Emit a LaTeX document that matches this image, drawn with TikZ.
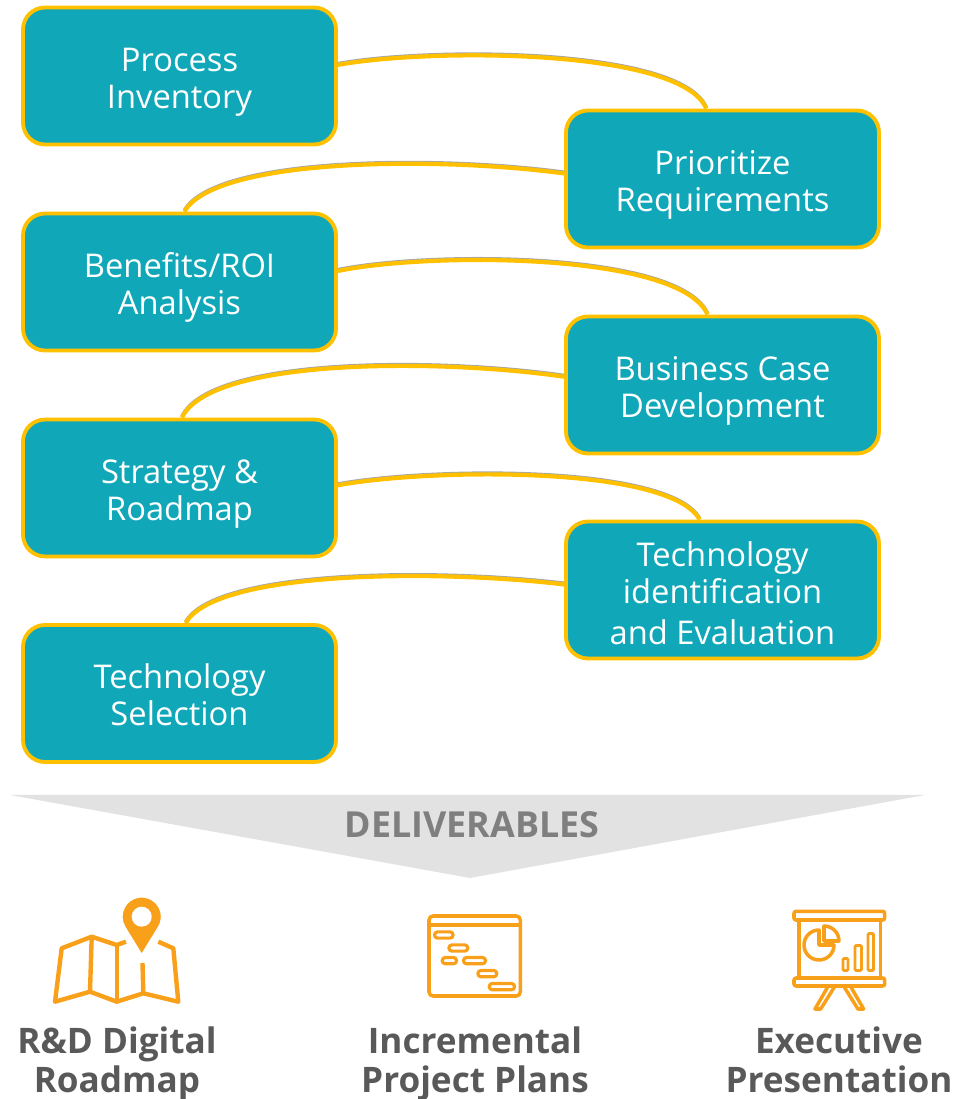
\documentclass[tikz,border=0pt]{standalone}
\usepackage{fontspec}
\setmainfont{Open Sans}
\definecolor{tealbox}{HTML}{10A8B9}
\definecolor{goldline}{HTML}{FFC000}
\definecolor{iconorange}{HTML}{F9A01B}
\definecolor{sharegray}{HTML}{E2E2E2}
\definecolor{titlegray}{HTML}{7F7F7F}
\definecolor{labelgray}{HTML}{595959}
\tikzset{every scope/.style={thick}}
\tikzset{
  stepbox/.style={draw=goldline,fill=tealbox,line width=1.1pt,rounded corners=0.22cm,minimum width=3.13cm,minimum height=1.37cm,inner sep=0pt,align=center,text=white,font=\fontsize{9.3}{10.5}\selectfont,text height=21pt,text depth=2.6pt},
  link/.style={draw=goldline,line width=1.2pt,preaction={draw=black!35,line width=1pt,transform canvas={yshift=0.35pt}}},
  outcome/.style={align=center,text=labelgray,font=\fontsize{10}{11.1}\selectfont\bfseries,execute at begin node=\strut,execute at end node=\strut},
  iconline/.style={draw=iconorange,line width=1pt,line join=round},
  mapline/.style={iconline,line width=1.25pt},
  ganttbar/.style={iconline,fill=white,rounded corners=0.03cm,line width=0.9pt},
  chartbar/.style={iconline,rounded corners=0.01cm,line width=0.8pt}
}

\begin{document}
\begin{tikzpicture}
  \useasboundingbox (0, 0) rectangle (9.77, 10.99);
  \node[stepbox] (process) at (1.795, 10.23) {Process\\Inventory};
  \node[stepbox] (prioritize) at (7.225, 9.20) {Prioritize\\Requirements};
  \node[stepbox] (benefits) at (1.795, 8.17) {Benefits/ROI\\Analysis};
  \node[stepbox] (business) at (7.225, 7.14) {Business Case\\Development};
  \node[stepbox] (strategy) at (1.795, 6.11) {Strategy \&\\Roadmap};
  \node[stepbox,text height=33.5pt] (identification) at (7.225, 5.09) {Technology\\identification\\[1pt]and Evaluation};
  \node[stepbox] (selection) at (1.795, 4.055) {Technology\\Selection};
  \draw[link] (process.4) .. controls +(0.93,0.17) and +(-0.25,0.60) .. (prioritize.103.8);
  \draw[link] (prioritize.178.9) .. controls +(-1.25,0.17) and +(0.31,0.54) .. (benefits.86.3);
  \draw[link] (benefits.4.4) .. controls +(0.93,0.19) and +(-0.27,0.62) .. (business.102.5);
  \draw[link] (business.177.1) .. controls +(-1.25,0.18) and +(0.29,0.60) .. (strategy.88.8);
  \draw[link] (strategy.1.1) .. controls +(0.93,0.17) and +(-0.30,0.54) .. (identification.108);
  \draw[link] (identification.178.9) .. controls +(-1.25,0.15) and +(0.30,0.53) .. (selection.85.5);
  \fill[sharegray] (0.10, 3.04) -- (9.25, 3.04) -- (4.70, 2.21) -- cycle;
  \node[text=titlegray,font=\fontsize{10.2}{11}\selectfont\bfseries] (deliverables) at (4.72, 2.74) {DELIVERABLES};
  \draw[mapline] (1.26, 1.573) -- (1.167, 1.54) -- (0.917, 1.623) -- (0.617, 1.507) -- (0.55, 0.973) -- (0.90, 1.073) -- (1.167, 0.973) -- (1.433, 1.057) -- (1.783, 0.973) -- (1.733, 1.507) -- (1.583, 1.573);
  \draw[mapline] (0.917, 1.623) -- (0.90, 1.073);
  \draw[mapline] (1.167, 1.54) -- (1.167, 0.973);
  \draw[mapline] (1.425, 1.36) -- (1.433, 1.057);
  \draw[draw=white,fill=iconorange,line width=0.5pt] (1.417, 1.44) -- (1.5875, 1.7185) arc (-31.5:211.5:0.2) -- cycle;
  \fill[white] (1.417, 1.823) circle (0.1);
  \node[outcome] (roadmap) at (1.17, 0.335) {R\&D Digital\\Roadmap};
  \draw[iconline,rounded corners=0.04cm] (4.29, 1.03) rectangle (5.203, 1.83);
  \draw[iconline] (4.29, 1.74) -- (5.203, 1.74);
  \draw[ganttbar] (4.345, 1.609) rectangle (4.531, 1.671);
  \draw[ganttbar] (4.489, 1.479) rectangle (4.678, 1.541);
  \draw[ganttbar] (4.422, 1.352) rectangle (4.565, 1.415);
  \draw[ganttbar] (4.635, 1.352) rectangle (4.855, 1.415);
  \draw[ganttbar] (4.779, 1.222) rectangle (4.968, 1.285);
  \draw[ganttbar] (4.892, 1.092) rectangle (5.145, 1.155);
  \node[outcome] (plans) at (4.75, 0.335) {Incremental\\Project Plans};
  \draw[iconline,rounded corners=0.02cm] (7.94, 1.79) rectangle (8.847, 1.877);
  \draw[iconline] (7.99, 1.79) rectangle (8.805, 1.21);
  \draw[iconline,rounded corners=0.02cm] (7.94, 1.13) rectangle (8.847, 1.21);
  \draw[iconline] (8.283, 1.13) -- (8.15, 0.90) -- (8.207, 0.90) -- (8.35, 1.13);
  \draw[iconline] (8.503, 1.13) -- (8.636, 0.90) -- (8.579, 0.90) -- (8.436, 1.13);
  \draw[iconline] (8.19, 1.54) -- (8.19, 1.69) arc (90:360:0.15) -- cycle;
  \draw[iconline] (8.24, 1.58) -- (8.24, 1.73) arc (90:0:0.15) -- cycle;
  \draw[chartbar] (8.43, 1.285) rectangle (8.48, 1.405);
  \draw[chartbar] (8.55, 1.285) rectangle (8.615, 1.535);
  \draw[chartbar] (8.68, 1.285) rectangle (8.735, 1.655);
  \node[outcome] (presentation) at (8.39, 0.335) {Executive\\Presentation};
\end{tikzpicture}
\end{document}
